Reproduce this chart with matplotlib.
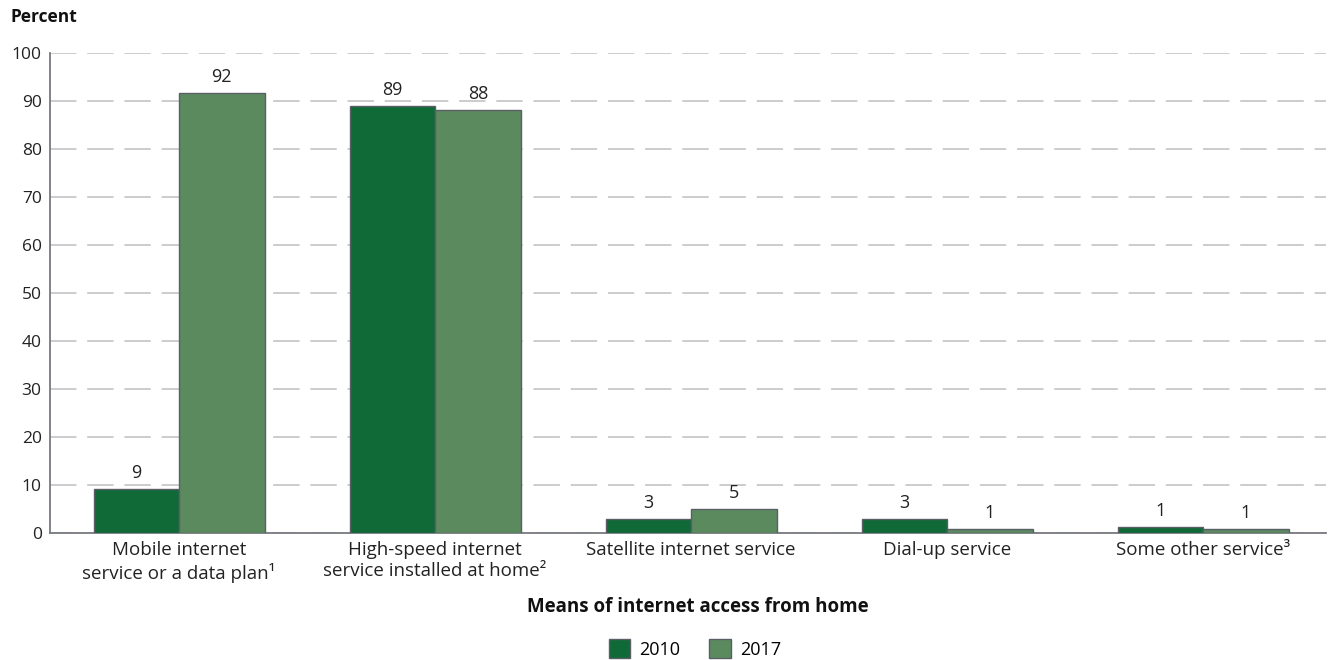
import numpy as np
import matplotlib
matplotlib.use("Agg")
import matplotlib.pyplot as plt
from matplotlib.patches import Patch

# Data
categories = [
    "Mobile internet\nservice or a data plan\u00b9",
    "High-speed internet\nservice installed at home\u00b2",
    "Satellite internet service",
    "Dial-up service",
    "Some other service\u00b3",
]
vals_2010 = [9.2, 88.9, 2.8, 2.8, 1.2]
vals_2017 = [91.6, 88.1, 4.9, 0.8, 0.7]
labels_2010 = ["9", "89", "3", "3", "1"]
labels_2017 = ["92", "88", "5", "1", "1"]
years = ["2010", "2017"]

dark_green = "#106a38"
light_green = "#5c8a5f"
edge = "#5a5e66"

plt.rcParams["font.family"] = ["Open Sans", "DejaVu Sans"]

fig = plt.figure(figsize=(13.28, 6.6), dpi=100)
ax = fig.add_axes([50 / 1328, 1 - 532.7 / 660, 1276 / 1328, 480.2 / 660])

x = np.arange(len(categories))
w = 0.334

bars1 = ax.bar(x - w / 2, vals_2010, w, color=dark_green, edgecolor=edge, linewidth=1, zorder=3)
bars2 = ax.bar(x + w / 2, vals_2017, w, color=light_green, edgecolor=edge, linewidth=1, zorder=3)

for bars, labs in [(bars1, labels_2010), (bars2, labels_2017)]:
    for b, lab in zip(bars, labs):
        ax.annotate(lab, (b.get_x() + b.get_width() / 2, b.get_height()),
                    xytext=(0, 5), textcoords="offset points",
                    ha="center", va="bottom", fontsize=13, color="#222222")

ax.set_ylim(0, 100)
ax.set_xlim(-0.504, 4.48)
ax.set_yticks(range(0, 101, 10))
ax.set_xticks(x)
ax.set_xticklabels(categories, fontsize=13.5, color="#222222", linespacing=1.22)
ax.tick_params(axis="y", length=0, pad=6, labelsize=12.5, labelcolor="#222222")
ax.tick_params(axis="x", length=0, pad=6)

ax.yaxis.grid(True, color="#c8c8cc", linestyle=(0, (14.6, 6)), linewidth=1.3, zorder=0)
ax.set_axisbelow(True)
for s in ["top", "right"]:
    ax.spines[s].set_visible(False)
for s in ["left", "bottom"]:
    ax.spines[s].set_color("#777a80")
    ax.spines[s].set_linewidth(1.3)

fig.text(11 / 1328, 1 - 17 / 660, "Percent", fontsize=12.5, fontweight="bold",
         va="center", ha="left", color="#111111")
fig.text(698 / 1328, 1 - 607 / 660, "Means of internet access from home", fontsize=13.5,
         fontweight="bold", ha="center", va="center", color="#111111")

handles = [Patch(facecolor=dark_green, edgecolor=edge), Patch(facecolor=light_green, edgecolor=edge)]
fig.legend(handles, years, loc="center", bbox_to_anchor=(695 / 1328, 1 - 649 / 660),
           ncol=2, frameon=False, fontsize=13, handlelength=1.2, handleheight=1.2,
           handletextpad=0.5, columnspacing=1.6, borderpad=0)

fig.savefig("out.png", dpi=100)
